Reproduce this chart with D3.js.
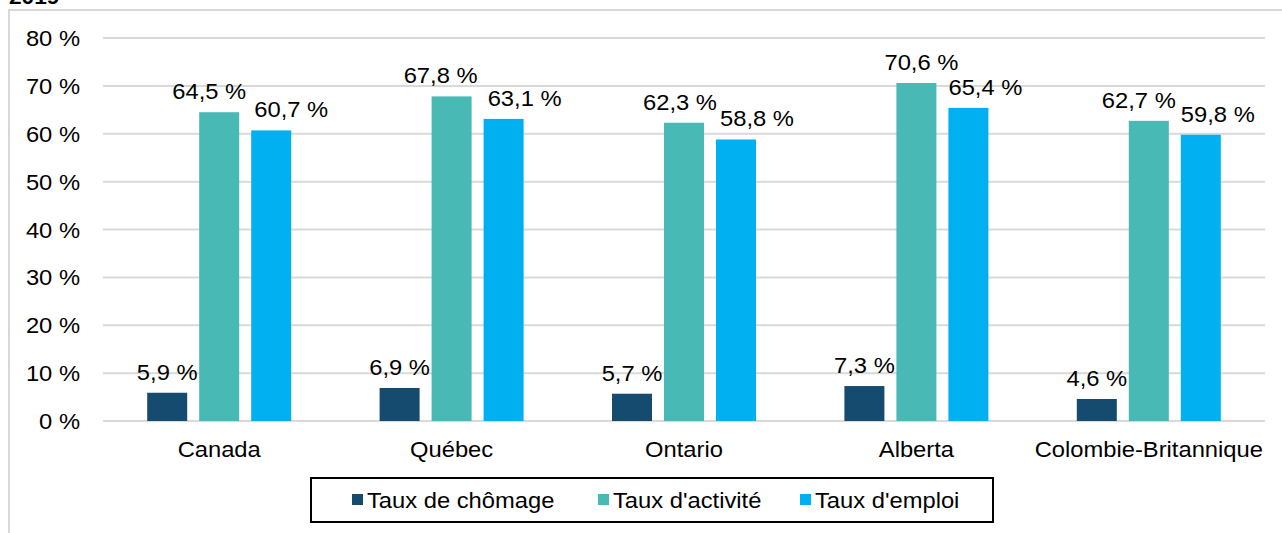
<!DOCTYPE html>
<html>
<head>
<meta charset="utf-8">
<script src="https://cdn.jsdelivr.net/npm/d3@7"></script>
<style>
  body { margin: 0; background: #fff; }
  text { font-family: "Liberation Sans", Arial, sans-serif; fill: #000; font-size: 22px; }
</style>
</head>
<body>
<script>
// data
const provinces = ['Canada', 'Québec', 'Ontario', 'Alberta', 'Colombie-Britannique'];
const seriesNames = ['Taux de chômage', "Taux d'activité", "Taux d'emploi"];
const chomage = [5.9, 6.9, 5.7, 7.3, 4.6];
const activite = [64.5, 67.8, 62.3, 70.6, 62.7];
const emploi = [60.7, 63.1, 58.8, 65.4, 59.8];
const yTicks = [0, 10, 20, 30, 40, 50, 60, 70, 80];
const colors = ['#154b6e', '#48b9b5', '#00b0f0'];
// labels were nudged sideways in the original so they don't collide
const labelNudge = [
  [0, 0, 0, 0, 0],
  [-10, -11, -4, 5, -10],
  [20, 21, 21, 17, 17]
];

const W = 1282, H = 533;
const sx = 1.08; // text in the source is a bit wider than Arial
const svg = d3.select('body').append('svg')
  .attr('width', W)
  .attr('height', H);

const place = (sel, fx, fy) => sel.attr('transform', (d, i) => `translate(${fx(d, i)},${fy(d, i)}) scale(${sx},1)`);

// title, cut off at the top
svg.append('text')
  .call(place, () => 9, () => 4)
  .style('font-size', '21px')
  .style('font-weight', 'bold')
  .text('2019');

// outer frame
svg.append('path')
  .attr('d', `M9,${H} V10 H${W}`)
  .attr('fill', 'none')
  .attr('stroke', '#d9d9d9')
  .attr('stroke-width', 2);

const x = d3.scaleBand()
  .domain(provinces)
  .range([103, 1265]);

const y = d3.scaleLinear()
  .domain([0, 80])
  .range([421, 38]);

const barW = 40, gap = 12;
const inner = d3.scaleBand()
  .domain(seriesNames)
  .range([0, 3 * barW + 2 * gap])
  .paddingInner(gap / (barW + gap));
const offset = (x.bandwidth() - (3 * barW + 2 * gap)) / 2;

// grid
svg.append('g')
  .selectAll('line')
  .data(yTicks)
  .join('line')
  .attr('x1', 103)
  .attr('x2', 1265)
  .attr('y1', d => y(d))
  .attr('y2', d => y(d))
  .attr('stroke', '#d9d9d9')
  .attr('stroke-width', 2);

// y labels
svg.append('g')
  .selectAll('text')
  .data(yTicks)
  .join('text')
  .call(place, () => 80, d => y(d) + 8)
  .attr('text-anchor', 'end')
  .text(d => d + ' %');

const data = [chomage, activite, emploi];
const fmt = v => v.toFixed(1).replace('.', ',') + ' %';

seriesNames.forEach((s, si) => {
  const g = svg.append('g');
  g.selectAll('rect')
    .data(provinces)
    .join('rect')
    .attr('x', (p) => x(p) + offset + inner(s))
    .attr('y', (p, i) => y(data[si][i]))
    .attr('width', inner.bandwidth())
    .attr('height', (p, i) => y(0) - y(data[si][i]))
    .attr('fill', colors[si]);
  g.selectAll('text')
    .data(provinces)
    .join('text')
    .call(place,
      (p, i) => x(p) + offset + inner(s) + inner.bandwidth() / 2 + labelNudge[si][i],
      (p, i) => y(data[si][i]) - 13)
    .attr('text-anchor', 'middle')
    .text((p, i) => fmt(data[si][i]));
});

// x labels
svg.append('g')
  .selectAll('text')
  .data(provinces)
  .join('text')
  .call(place, p => x(p) + x.bandwidth() / 2, () => 457)
  .attr('text-anchor', 'middle')
  .text(d => d);

// legend
const legend = svg.append('g');
legend.append('rect')
  .attr('x', 311)
  .attr('y', 478)
  .attr('width', 682)
  .attr('height', 44)
  .attr('fill', '#fff')
  .attr('stroke', '#000')
  .attr('stroke-width', 2);

const legX = [352, 598, 800];
legend.selectAll('rect.key')
  .data(seriesNames)
  .join('rect')
  .attr('class', 'key')
  .attr('x', (d, i) => legX[i])
  .attr('y', 494)
  .attr('width', 11)
  .attr('height', 11)
  .attr('fill', (d, i) => colors[i]);
legend.selectAll('text')
  .data(seriesNames)
  .join('text')
  .call(place, (d, i) => legX[i] + 15, () => 508)
  .text(d => d);
</script>
</body>
</html>
